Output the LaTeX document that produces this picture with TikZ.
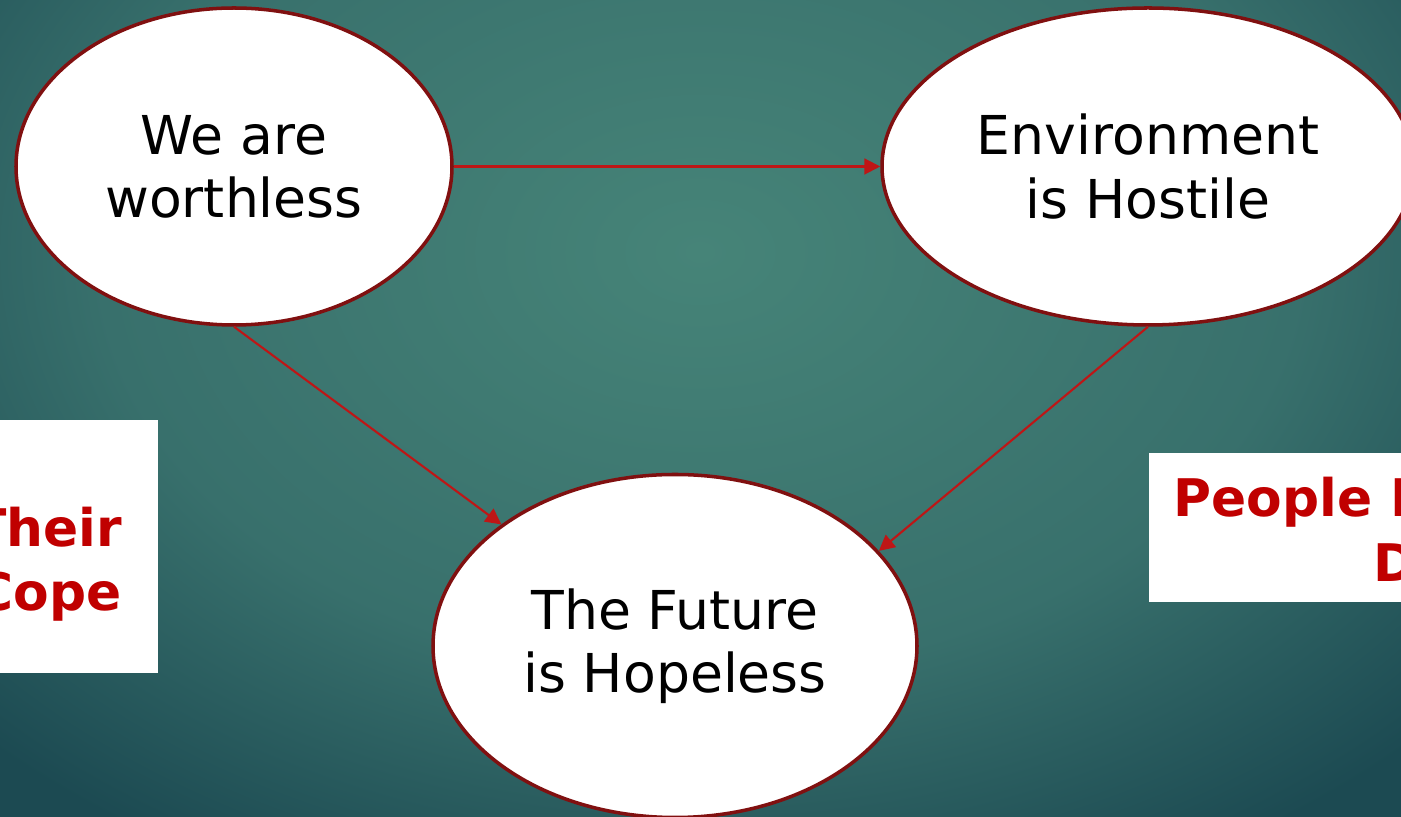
\documentclass[tikz,border=0pt]{standalone}
\usepackage{fontspec}
\setmainfont{DejaVu Sans}
\usetikzlibrary{shapes.geometric,arrows.meta}
\definecolor{bgin}{RGB}{70,132,120}
\definecolor{bgmid}{RGB}{56,112,108}
\definecolor{bgout}{RGB}{28,74,82}
\definecolor{rim}{RGB}{128,16,16}
\definecolor{linkred}{RGB}{190,22,22}
\definecolor{notered}{RGB}{192,0,0}
\pgfdeclareradialshading{glow}{\pgfpoint{0bp}{0bp}}{color(0bp)=(bgin); color(15bp)=(bgmid); color(25bp)=(bgout); color(50bp)=(bgout)}
\begin{document}
\begin{tikzpicture}[
  idea/.style={ellipse, draw=rim, line width=2pt, fill=white, inner sep=0pt, align=center, font=\fontsize{30.5pt}{36pt}\selectfont},
  link/.style={draw=linkred, line width=1.2pt, -{Triangle[length=9pt,width=9pt]}},
  notebox/.style={fill=white, inner sep=0pt},
  notetext/.style={text=notered, inner sep=0pt, font=\fontsize{29.5pt}{37pt}\selectfont\bfseries}]
\useasboundingbox (0,0) rectangle (28.02,16.34);
\clip (0,0) rectangle (28.02,16.34);
\shade[shading=glow] (-6,-2.7) rectangle (34,25.3);
\node[idea, minimum width=8.72cm, minimum height=6.34cm] (worth) at (4.68,13.01) {We are\\worthless};
\node[idea, minimum width=10.64cm, minimum height=6.34cm] (hostile) at (22.96,13.01) {Environment\\is Hostile};
\node[idea, minimum width=9.68cm, minimum height=6.86cm] (future) at (13.5,3.42) {The Future\\is Hopeless};
\draw[link] (worth.east) -- (hostile.west);
\draw[link] (worth.south) -- (future.145);
\draw[link] (hostile.south) -- (future.25.5);
\node[notebox, minimum width=4.16cm, minimum height=5.06cm, anchor=north east] (copebox) at (3.16,7.94) {};
\node[notetext, anchor=base east] (their) at (2.45,5.40) {Their};
\node[notetext, anchor=base east] (cope) at (2.44,4.12) {Cope};
\node[notebox, minimum width=6cm, minimum height=2.98cm, anchor=north west] (peoplebox) at (22.98,7.28) {};
\node[notetext, anchor=base west] (people) at (23.46,6.0) {People I};
\node[notetext, anchor=base west] (dee) at (27.46,4.70) {D};
\end{tikzpicture}
\end{document}
